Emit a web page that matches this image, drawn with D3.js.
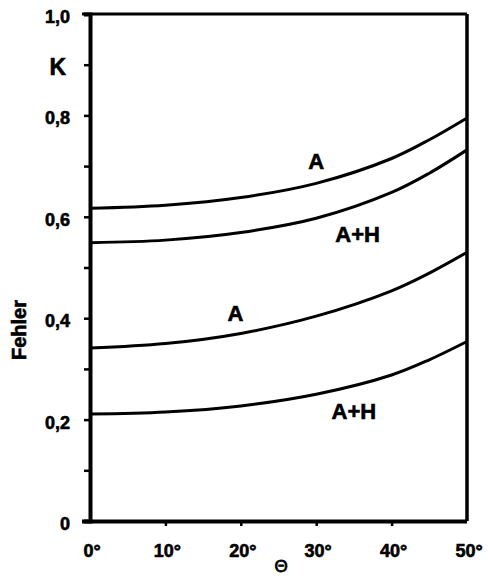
<!DOCTYPE html>
<html>
<head>
<meta charset="utf-8">
<script src="https://cdn.jsdelivr.net/npm/d3@7"></script>
<style>
  body { margin: 0; background: #fff; }
  text { font-family: "Liberation Sans", Arial, sans-serif; font-weight: bold; fill: #000; stroke: #000; stroke-width: 0.6px; }
</style>
</head>
<body>
<div id="chart"></div>
<script>
// angle values (degrees) and error curves
const theta = [0, 10, 20, 30, 40, 45, 50]
const upperA = [0.617, 0.623, 0.638, 0.666, 0.715, 0.752, 0.795]
const upperAH = [0.549, 0.554, 0.569, 0.597, 0.648, 0.686, 0.732]
const lowerA = [0.341, 0.350, 0.370, 0.404, 0.454, 0.489, 0.530]
const lowerAH = [0.211, 0.215, 0.227, 0.250, 0.288, 0.318, 0.354]
const xTicks = [0, 10, 20, 30, 40, 50]
const yMajor = [0, 0.2, 0.4, 0.6, 0.8, 1.0]
const yMinor = [0.1, 0.3, 0.5, 0.7, 0.9]
const curveLabels = [
  { text: 'A', t: 30, v: 0.71 },
  { text: 'A+H', t: 35.5, v: 0.565 },
  { text: 'A', t: 19.3, v: 0.41 },
  { text: 'A+H', t: 35, v: 0.215 }
]

const width = 488
const height = 579
const plotLeft = 90
const plotRight = 467
const plotTop = 14
const plotBottom = 521

const svg = d3.select('#chart').append('svg')
  .attr('width', width)
  .attr('height', height)

const x = d3.scaleLinear().domain([0, 50]).range([plotLeft, plotRight])
const y = d3.scaleLinear().domain([0, 1]).range([plotBottom, plotTop])

// frame: top and right edges thinner than the axes
svg.append('line')
  .attr('x1', plotLeft - 8).attr('x2', plotRight)
  .attr('y1', y(1)).attr('y2', y(1))
  .attr('stroke', '#000').attr('stroke-width', 3)
svg.append('line')
  .attr('x1', plotRight).attr('x2', plotRight)
  .attr('y1', y(1)).attr('y2', plotBottom)
  .attr('stroke', '#000').attr('stroke-width', 3.5)

// y axis
svg.append('g')
  .attr('transform', `translate(${plotLeft},0)`)
  .call(d3.axisLeft(y).tickValues(yMajor.concat(yMinor)).tickSize(6).tickFormat(''))
  .call(g => g.select('.domain').attr('stroke-width', 4))
  .call(g => g.selectAll('.tick line').attr('stroke-width', 2.5))

svg.selectAll('.ylab')
  .data(yMajor)
  .join('text')
  .attr('class', 'ylab')
  .attr('x', 70)
  .attr('y', d => y(d) + 3)
  .attr('text-anchor', 'end')
  .attr('dominant-baseline', 'central')
  .style('font-size', '18px')
  .text(d => d === 0 ? '0' : d3.format('.1f')(d).replace('.', ','))

svg.append('text')
  .attr('x', 66)
  .attr('y', y(0.9) + 2)
  .attr('text-anchor', 'end')
  .attr('dominant-baseline', 'central')
  .style('font-size', '23px')
  .text('K')

// x axis
svg.append('g')
  .attr('transform', `translate(0,${plotBottom})`)
  .call(d3.axisBottom(x).tickValues(xTicks.slice(1, -1)).tickSize(5).tickFormat(''))
  .call(g => g.select('.domain').attr('stroke-width', 4).attr('d', `M${plotLeft - 8},0.5H${plotRight}`))
  .call(g => g.selectAll('.tick line').attr('stroke-width', 2.5))

svg.selectAll('.xlab')
  .data(xTicks)
  .join('text')
  .attr('class', 'xlab')
  .attr('x', d => x(d) + 2)
  .attr('y', 557)
  .attr('text-anchor', 'middle')
  .style('font-size', '18px')
  .text(d => d + '°')

svg.append('text')
  .attr('x', 281)
  .attr('y', 572)
  .attr('text-anchor', 'middle')
  .style('font-size', '17px')
  .style('font-weight', 'normal')
  .style('stroke-width', 0.8)
  .text('Θ')

svg.append('text')
  .attr('transform', 'translate(26,330) rotate(-90)')
  .attr('text-anchor', 'middle')
  .style('font-size', '20px')
  .text('Fehler')

// curves
const line = d3.line()
  .x((d, i) => x(theta[i]))
  .y(d => y(d))
  .curve(d3.curveCatmullRom)

svg.selectAll('.curve')
  .data([upperA, upperAH, lowerA, lowerAH])
  .join('path')
  .attr('class', 'curve')
  .attr('d', line)
  .attr('fill', 'none')
  .attr('stroke', '#000')
  .attr('stroke-width', 3)

svg.selectAll('.clab')
  .data(curveLabels)
  .join('text')
  .attr('class', 'clab')
  .attr('x', d => x(d.t))
  .attr('y', d => y(d.v))
  .attr('text-anchor', 'middle')
  .attr('dominant-baseline', 'central')
  .style('font-size', '22px')
  .text(d => d.text)
</script>
</body>
</html>
